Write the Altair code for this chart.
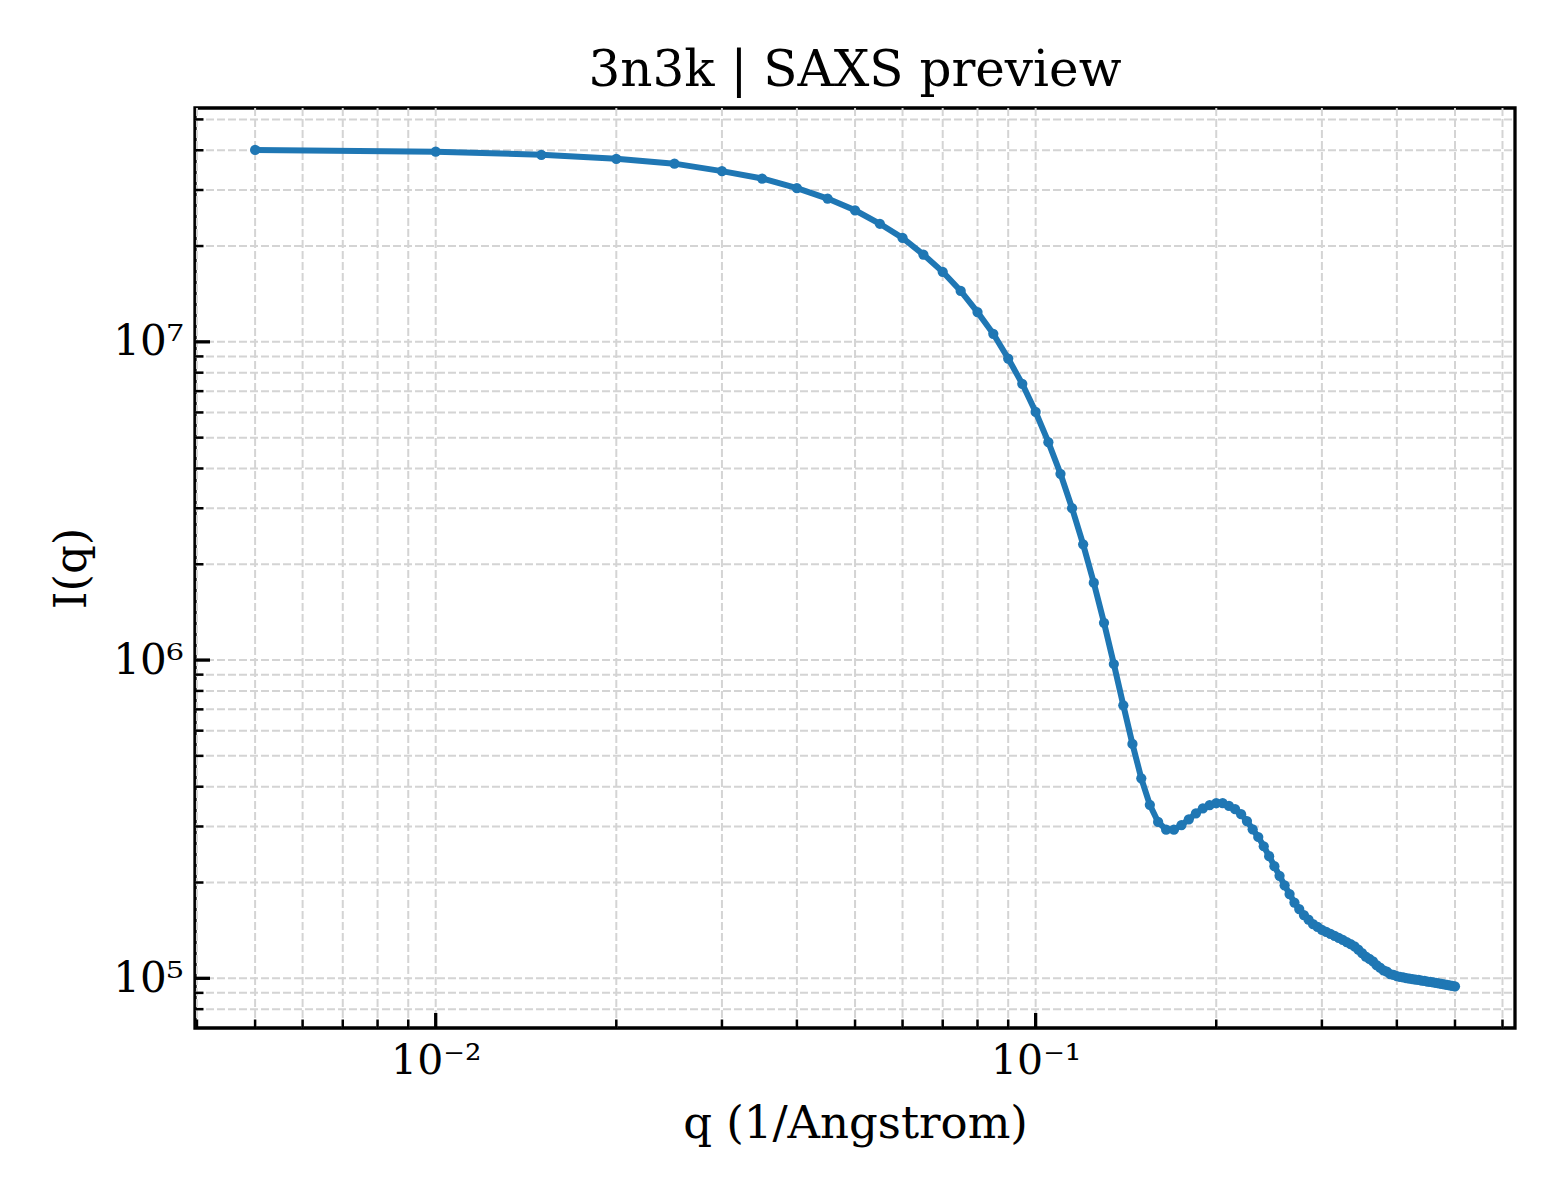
import altair as alt
import pandas as pd

# ---- data ----
Q = [0.005, 0.010, 0.015, 0.020, 0.025, 0.030, 0.035, 0.040, 0.045, 0.050,
     0.055, 0.060, 0.065, 0.070, 0.075, 0.080, 0.085, 0.090, 0.095, 0.100,
     0.105, 0.110, 0.115, 0.120, 0.125, 0.130, 0.135, 0.140, 0.145, 0.150,
     0.155, 0.160, 0.165, 0.170, 0.175, 0.180, 0.185, 0.190, 0.195, 0.200,
     0.205, 0.210, 0.215, 0.220, 0.225, 0.230, 0.235, 0.240, 0.245, 0.250,
     0.255, 0.260, 0.265, 0.270, 0.275, 0.280, 0.285, 0.290, 0.295, 0.300,
     0.305, 0.310, 0.315, 0.320, 0.325, 0.330, 0.335, 0.340, 0.345, 0.350,
     0.355, 0.360, 0.365, 0.370, 0.375, 0.380, 0.385, 0.390, 0.395, 0.400,
     0.405, 0.410, 0.415, 0.420, 0.425, 0.430, 0.435, 0.440, 0.445, 0.450,
     0.455, 0.460, 0.465, 0.470, 0.475, 0.480, 0.485, 0.490, 0.495, 0.500]

I = [4.01e7, 3.96e7, 3.87e7, 3.76e7, 3.63e7, 3.44e7, 3.26e7, 3.04e7, 2.82e7, 2.59e7,
     2.35e7, 2.12e7, 1.88e7, 1.66e7, 1.445e7, 1.24e7, 1.06e7, 8.86e6, 7.38e6, 6.02e6,
     4.84e6, 3.85e6, 3.00e6, 2.31e6, 1.75e6, 1.31e6, 9.72e5, 7.21e5, 5.45e5, 4.25e5,
     3.51e5, 3.10e5, 2.93e5, 2.93e5, 3.03e5, 3.16e5, 3.30e5, 3.42e5, 3.50e5, 3.55e5,
     3.55e5, 3.48e5, 3.40e5, 3.28e5, 3.12e5, 2.94e5, 2.78e5, 2.60e5, 2.42e5, 2.25e5,
     2.10e5, 1.96e5, 1.84e5, 1.73e5, 1.65e5, 1.58e5, 1.53e5, 1.48e5, 1.45e5, 1.42e5,
     1.40e5, 1.38e5, 1.36e5, 1.34e5, 1.32e5, 1.30e5, 1.28e5, 1.26e5, 1.23e5, 1.20e5,
     1.17e5, 1.15e5, 1.13e5, 1.10e5, 1.08e5, 1.06e5, 1.05e5, 1.03e5, 1.026e5, 1.016e5,
     1.011e5, 1.006e5, 1.001e5, 9.98e4, 9.94e4, 9.91e4, 9.88e4, 9.84e4, 9.81e4, 9.77e4,
     9.74e4, 9.71e4, 9.68e4, 9.64e4, 9.61e4, 9.57e4, 9.54e4, 9.51e4, 9.47e4, 9.44e4]

X_MAJOR = [0.01, 0.1]
X_MAJOR_LABELS = ["10⁻²", "10⁻¹"]
X_MINOR = [0.004, 0.005, 0.006, 0.007, 0.008, 0.009,
           0.02, 0.03, 0.04, 0.05, 0.06, 0.07, 0.08, 0.09,
           0.2, 0.3, 0.4, 0.5, 0.6]
Y_MAJOR = [1e5, 1e6, 1e7]
Y_MAJOR_LABELS = ["10⁵", "10⁶", "10⁷"]
Y_MINOR = [8e4, 9e4,
           2e5, 3e5, 4e5, 5e5, 6e5, 7e5, 8e5, 9e5,
           2e6, 3e6, 4e6, 5e6, 6e6, 7e6, 8e6, 9e6,
           2e7, 3e7, 4e7, 5e7]

TITLE = "3n3k | SAXS preview"
X_TITLE = "q (1/Angstrom)"
Y_TITLE = "I(q)"

# ---- styling ----
W, H = 1320, 920
FONT = "DejaVu Serif"
BLUE = "#1f77b4"
GRID = "#d4d4d4"


def label_expr(vals, labels):
    parts = [f"datum.value == {v} ? '{l}'" for v, l in zip(vals, labels)]
    return " : ".join(parts) + " : ''"


df = pd.DataFrame({"q": Q, "I": I})
xscale = alt.Scale(type="log", domain=[0.00397, 0.6295], nice=False)
yscale = alt.Scale(type="log", domain=[6.98e4, 5.43e7], nice=False)

x_axis = alt.Axis(values=X_MAJOR, labelExpr=label_expr(X_MAJOR, X_MAJOR_LABELS),
                  ticks=False, grid=False, domain=False,
                  labelFont=FONT, labelFontSize=41, labelColor="black",
                  labelPadding=13, labelFlush=False,
                  title=X_TITLE, titleFont=FONT, titleFontSize=45,
                  titleFontWeight="normal", titleColor="black", titlePadding=20)
y_axis = alt.Axis(values=Y_MAJOR, labelExpr=label_expr(Y_MAJOR, Y_MAJOR_LABELS),
                  ticks=False, grid=False, domain=False,
                  labelFont=FONT, labelFontSize=42, labelColor="black",
                  labelPadding=12, labelFlush=False,
                  title=Y_TITLE, titleFont=FONT, titleFontSize=45,
                  titleFontWeight="normal", titleColor="black", titlePadding=18)


def X(field):
    return alt.X(field, type="quantitative", scale=xscale, axis=x_axis)


def Y(field):
    return alt.Y(field, type="quantitative", scale=yscale, axis=y_axis)


xgrid_df = pd.DataFrame({"v": X_MAJOR + X_MINOR})
ygrid_df = pd.DataFrame({"v": Y_MAJOR + Y_MINOR})

grid_x = alt.Chart(xgrid_df).mark_rule(stroke=GRID, strokeWidth=2, strokeDash=[8, 3]).encode(
    x=X("v"), y=alt.value(0), y2=alt.value(H))
grid_y = alt.Chart(ygrid_df).mark_rule(stroke=GRID, strokeWidth=2, strokeDash=[8, 3]).encode(
    y=Y("v"), x=alt.value(0), x2=alt.value(W))

line = alt.Chart(df).mark_line(color=BLUE, strokeWidth=6).encode(x=X("q"), y=Y("I"))
pts = alt.Chart(df).mark_circle(color=BLUE, size=105, opacity=1).encode(x=X("q"), y=Y("I"))

tick_xmaj = alt.Chart(pd.DataFrame({"v": X_MAJOR})).mark_rule(color="black", strokeWidth=3.3).encode(
    x=X("v"), y=alt.value(H), y2=alt.value(H - 15))
tick_xmin = alt.Chart(pd.DataFrame({"v": X_MINOR})).mark_rule(color="black", strokeWidth=2.5).encode(
    x=X("v"), y=alt.value(H), y2=alt.value(H - 8.5))
tick_ymaj = alt.Chart(pd.DataFrame({"v": Y_MAJOR})).mark_rule(color="black", strokeWidth=3.3).encode(
    y=Y("v"), x=alt.value(0), x2=alt.value(15))
tick_ymin = alt.Chart(pd.DataFrame({"v": Y_MINOR})).mark_rule(color="black", strokeWidth=2.5).encode(
    y=Y("v"), x=alt.value(0), x2=alt.value(8.5))

chart = alt.layer(grid_x, grid_y, line, pts, tick_xmaj, tick_xmin, tick_ymaj, tick_ymin).properties(
    width=W, height=H,
    background="white",
    title=alt.TitleParams(TITLE, font=FONT, fontSize=50, fontWeight="normal", color="black",
                          anchor="middle", offset=11),
    autosize=alt.AutoSizeParams(type="none"),
    padding={"left": 187, "top": 100, "right": 30, "bottom": 160},
).configure_view(stroke="black", strokeWidth=3.3)

chart.save("out.html", embed_options={"renderer": "svg", "actions": False})
